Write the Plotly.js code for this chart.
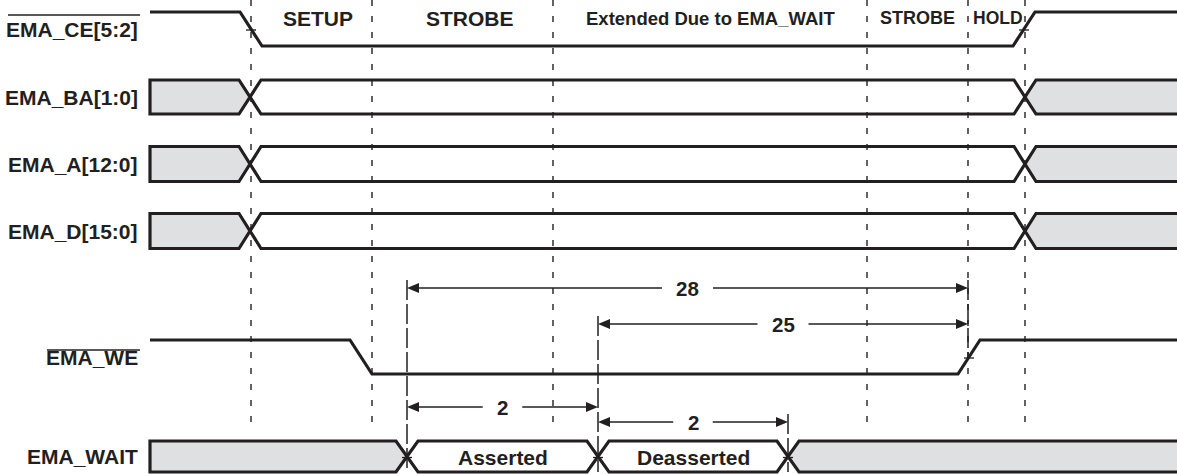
<!DOCTYPE html>
<html><head><meta charset="utf-8">
<script src="https://cdn.plot.ly/plotly-3.0.1.min.js"></script>
<style>html,body{margin:0;padding:0;background:#fff;}#chart{width:1177px;height:474px;}</style>
</head><body><div id="chart"></div>
<script>
// ---------------- data (timeline units) ----------------
const signalNames = ['EMA_CE[5:2]', 'EMA_BA[1:0]', 'EMA_A[12:0]', 'EMA_D[15:0]', 'EMA_WE', 'EMA_WAIT'];
const ceEdges = [251, 1024];          // chip select falls / rises
const busEdges = [250, 1025];         // address / data valid window
const weEdges = [361, 969];           // write enable falls / rises
const waitEdges = [407, 598, 788];    // EMA_WAIT transitions
const waitStateLabels = ['', 'Asserted', 'Deasserted', ''];
const phaseBounds = [251, 372, 553, 867, 968, 1025];
const phaseLabels = ['SETUP', 'STROBE', 'Extended Due to EMA_WAIT', 'STROBE', 'HOLD'];
const dimStart = [407, 598, 407, 598];
const dimEnd = [968, 968, 598, 788];
const dimLabels = ['28', '25', '2', '2'];
const timeStart = 150, timeEnd = 1177;

// ---------------- style ----------------
const INK = '#231f20', GREY = '#dfe0e2';
const FONT = 'Liberation Sans, Arial, Helvetica, sans-serif';
const rowCenter = [29, 97, 164, 231, 357, 456.5];
const rowHalf = [17, 17, 17.5, 17.5, 17, 15.5];
const H = 11;                 // half width of a transition
const dimY = [288, 324, 407, 422];
const phaseFont = [21, 21, 18.5, 18, 17.5];
const phaseShift = [6, 7, 0, 0, 1];
const labelRight = 140;
const overline = [[0, 8, 140, 15], [4, 47, 140, 350]];

const traces = [];
function line(xs, ys, w, dash) {
  traces.push({type: 'scatter', mode: 'lines', x: xs, y: ys, hoverinfo: 'skip', showlegend: false,
    line: {color: INK, width: w || 3, dash: dash || 'solid'}});
}
function poly(xs, ys, col) {
  traces.push({type: 'scatter', mode: 'lines', x: xs, y: ys, fill: 'toself', fillcolor: col,
    hoverinfo: 'skip', showlegend: false, line: {width: 0, color: col}});
}

// phase boundary dashed lines
phaseBounds.forEach(b => line([b, b], [0, 432], 1.4, '6px,10px'));

// dimension extension lines
const ends = [...new Set(dimStart.concat(dimEnd))];
ends.forEach(x => {
  let top = 1e9;
  dimStart.forEach((s, i) => { if (s === x || dimEnd[i] === x) top = Math.min(top, dimY[i] - 8); });
  const bottom = waitEdges.includes(x) ? rowCenter[5] + rowHalf[5] : rowCenter[4];
  line([x, x], [top, bottom], 1.5, '20px,4px');
});

// bus-type rows
function busRow(r, edges) {
  const c = rowCenter[r], t = c - rowHalf[r], b = c + rowHalf[r];
  const bounds = [timeStart].concat(edges, [timeEnd]);
  const nSeg = bounds.length - 1;
  [0, nSeg - 1].forEach(i => {
    const L = bounds[i], R = bounds[i + 1];
    const xs = [], ys = [];
    if (i === 0) { xs.push(L, L); ys.push(b, t); } else { xs.push(L, L + H); ys.push(c, t); }
    if (i === nSeg - 1) { xs.push(R + 5, R + 5); ys.push(t, b); } else { xs.push(R - H, R, R - H); ys.push(t, c, b); }
    if (i !== 0) { xs.push(L + H); ys.push(b); }
    poly(xs, ys, GREY);
  });
  function path(start) {
    const xs = [timeStart], ys = [start];
    let cur = start;
    edges.forEach(e => { const nx = cur === t ? b : t; xs.push(e - H, e + H); ys.push(cur, nx); cur = nx; });
    xs.push(timeEnd); ys.push(cur);
    return {xs, ys};
  }
  const A = path(t), B = path(b);
  line(A.xs.slice().reverse().concat(B.xs), A.ys.slice().reverse().concat(B.ys), 3.2);
}
function strobeRow(r, edges) {
  const c = rowCenter[r], hi = c - rowHalf[r], lo = c + rowHalf[r];
  const xs = [timeStart], ys = [hi];
  let cur = hi;
  edges.forEach(e => { const nx = cur === hi ? lo : hi; xs.push(e - H, e + H); ys.push(cur, nx); cur = nx; });
  xs.push(timeEnd); ys.push(cur);
  line(xs, ys, 3.2);
}

strobeRow(0, ceEdges);
busRow(1, busEdges);
busRow(2, busEdges);
busRow(3, busEdges);
strobeRow(4, weEdges);
busRow(5, waitEdges);

// small crossing ticks where a marker line meets a strobe / wait edge
const markers = phaseBounds.concat(dimStart, dimEnd);
[[0, ceEdges], [4, weEdges], [5, waitEdges]].forEach(([r, edges]) => {
  edges.forEach(e => {
    if (markers.some(m => Math.abs(m - e) <= 2)) line([e - 5, e + 5], [rowCenter[r] + 1, rowCenter[r] + 1], 1.3);
  });
});

// dimension arrows
const annotations = [];
dimLabels.forEach((lab, i) => {
  const s = dimStart[i], e = dimEnd[i], y = dimY[i];
  const mid = (s + e) / 2, gap = lab.length * 5.75 + 14;
  line([s + 8, mid - gap], [y, y], 1.5);
  line([mid + gap, e - 8], [y, y], 1.5);
  poly([s, s + 12, s + 12, s], [y, y - 5, y + 5, y], INK);
  poly([e, e - 12, e - 12, e], [y, y - 5, y + 5, y], INK);
  annotations.push({x: mid, y: y, xref: 'x', yref: 'y', text: '<b>' + lab + '</b>', showarrow: false,
    xanchor: 'center', yanchor: 'middle', font: {family: FONT, size: 20.5, color: INK}});
});

// overlines for active-low signal names
overline.forEach(([r, x0, x1, y]) => line([x0, x1], [y, y], 1.6));

// signal names
signalNames.forEach((n, r) => {
  annotations.push({x: labelRight, y: rowCenter[r], xref: 'x', yref: 'y', text: '<b>' + n + '</b>',
    showarrow: false, xanchor: 'right', yanchor: 'middle', font: {family: FONT, size: 21, color: INK}});
});

// phase labels
phaseLabels.forEach((p, i) => {
  annotations.push({x: (phaseBounds[i] + phaseBounds[i + 1]) / 2 + phaseShift[i], y: 18, xref: 'x', yref: 'y',
    text: '<b>' + p + '</b>', showarrow: false, xanchor: 'center', yanchor: 'middle',
    font: {family: FONT, size: phaseFont[i], color: INK}});
});

// wait state labels
const wb = [timeStart].concat(waitEdges, [timeEnd]);
waitStateLabels.forEach((s, i) => {
  if (!s) return;
  annotations.push({x: (wb[i] + wb[i + 1]) / 2, y: rowCenter[5] + 1, xref: 'x', yref: 'y',
    text: '<b>' + s + '</b>', showarrow: false, xanchor: 'center', yanchor: 'middle',
    font: {family: FONT, size: 21, color: INK}});
});

const layout = {
  width: 1177, height: 474, margin: {l: 0, r: 0, t: 0, b: 0},
  paper_bgcolor: '#ffffff', plot_bgcolor: '#ffffff', showlegend: false,
  xaxis: {range: [0, 1177], visible: false, fixedrange: true},
  yaxis: {range: [474, 0], visible: false, fixedrange: true},
  annotations: annotations
};
Plotly.newPlot('chart', traces, layout, {staticPlot: true, displayModeBar: false});
</script>
</body></html>
